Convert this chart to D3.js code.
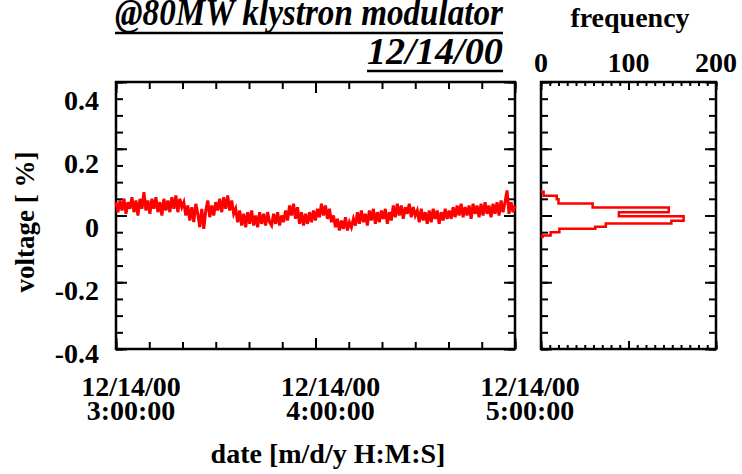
<!DOCTYPE html>
<html>
<head>
<meta charset="utf-8">
<script src="https://cdn.jsdelivr.net/npm/d3@7"></script>
<style>
  body { margin: 0; background: #fff; }
  text { font-family: "Liberation Serif", "DejaVu Serif", serif; font-weight: bold; fill: #000; }
</style>
</head>
<body>
<script>
// data
var startTime = new Date(2000, 11, 14, 3, 0, 0);
var stepSec = 36;
var voltage = [
  0.04, 0.01, 0.045, 0.015, 0.05, 0.005, 0.04, 0.02, 0.055, 0.01, 0.045, 0.0, 0.05, 0.02, 0.07,
  0.015, 0.045, 0.005, 0.05, 0.02, 0.055, 0.01, 0.04, 0.0, 0.05, 0.015, 0.045, 0.01, 0.055, 0.02, 0.06, 0.01, 0.05, 0.025,
  0.04, 0.0, 0.03, -0.015, 0.025, -0.02, 0.035, 0.005, -0.035, 0.02, -0.04, 0.015, 0.045, -0.005, 0.03, 0.0, 0.04,
  0.015, 0.05, 0.01, 0.055, 0.02, 0.06, 0.015, 0.045, 0.005,
  0.02, -0.02, 0.015, -0.03, 0.005, -0.035, 0.01, -0.025, 0.015, -0.03, 0.0, -0.035, 0.01, -0.025, 0.005, -0.03, 0.01, -0.02,
  -0.03, 0.005, -0.025, 0.01, -0.03, 0.0, -0.02, 0.015, -0.015, 0.03, 0.0, 0.035, -0.01, 0.025, -0.025, 0.01, -0.03, 0.005, -0.025, 0.01, -0.02, 0.015, -0.015, 0.02, -0.005, 0.035, 0.0, 0.03, -0.01, 0.02, -0.02,
  0.0, -0.035, -0.01, -0.045, -0.015, -0.04, -0.005, -0.045, -0.02, -0.035, -0.01, -0.03,
  0.01, -0.025, 0.015, -0.02, 0.005, -0.03, 0.015, -0.015, 0.02, -0.025, 0.01, -0.02, 0.015, -0.01, 0.02, -0.025, 0.01, -0.015,
  0.03, -0.005, 0.035, 0.0, 0.03, -0.01, 0.025, 0.005, 0.035, -0.005, 0.025, 0.0,
  0.015, -0.02, 0.02, -0.015, 0.01, -0.025, 0.015, -0.02, 0.02, -0.01, 0.015, -0.025, 0.01, -0.015, 0.02, -0.01, 0.015,
  -0.01, 0.025, -0.005, 0.03, 0.0, 0.035, -0.005, 0.025, 0.0, 0.03, -0.01, 0.035, 0.005, 0.03, -0.005, 0.035, 0.0, 0.04, 0.005, 0.03, -0.005, 0.035, 0.005, 0.04, 0.0, 0.045, 0.01, 0.04, 0.075, 0.005, 0.04, 0.01, 0.03
];
var histEdges = [0.071, 0.059, 0.049, 0.036, 0.024, 0.010, -0.002, -0.016, -0.024, -0.034, -0.040, -0.050, -0.060, -0.064];
var histCounts = [3, 18, 20, 59, 146, 89, 163, 149, 74, 62, 21, 11, 2];
var yTickValues = [-0.4, -0.2, 0, 0.2, 0.4];
var yTickLabels = ["-0.4", "-0.2", "0", "0.2", "0.4"];
var xTickTimes = [new Date(2000, 11, 14, 3), new Date(2000, 11, 14, 4), new Date(2000, 11, 14, 5)];
var xTickLabels = [["12/14/00", "3:00:00"], ["12/14/00", "4:00:00"], ["12/14/00", "5:00:00"]];
var freqTickValues = [0, 100, 200];
var freqTickLabels = ["0", "100", "200"];

var width = 742, height = 474;
var main = {left: 116, right: 515, top: 82, bottom: 349};
var hist = {left: 541, right: 716, top: 82, bottom: 349};

var svg = d3.select("body").append("svg")
    .attr("width", width)
    .attr("height", height);

var series = voltage.map(function(v, i) {
    return {t: new Date(startTime.getTime() + i * stepSec * 1000), v: v};
});

var x = d3.scaleTime()
    .domain([xTickTimes[0], xTickTimes[2]])
    .range([main.left, main.right]);
var y = d3.scaleLinear().domain([-0.4, 0.4]).range([main.bottom, main.top]);
// tick labels sit slightly off their ticks in the original
var yLab = d3.scaleLinear().domain([-0.4, 0.4]).range([353, 100]);
var hx = d3.scaleLinear().domain([0, 200]).range([hist.left, hist.right]);

function styleAxis(g) {
    g.select(".domain").remove();
    g.selectAll(".tick line").attr("stroke", "#000").attr("stroke-width", 2);
    g.selectAll(".tick text").remove();
}

// ticks, all pointing inwards
var minorY = d3.range(-0.4, 0.4001, 0.05);
function yAxes(left, right, scale) {
    svg.append("g").attr("transform", "translate(" + left + ",0)")
        .call(d3.axisLeft(scale).tickValues(minorY).tickSize(-7)).call(styleAxis);
    svg.append("g").attr("transform", "translate(" + left + ",0)")
        .call(d3.axisLeft(scale).tickValues(yTickValues).tickSize(-11)).call(styleAxis);
    svg.append("g").attr("transform", "translate(" + right + ",0)")
        .call(d3.axisRight(scale).tickValues(minorY).tickSize(-7)).call(styleAxis);
    svg.append("g").attr("transform", "translate(" + right + ",0)")
        .call(d3.axisRight(scale).tickValues(yTickValues).tickSize(-11)).call(styleAxis);
}
yAxes(main.left, main.right, y);
yAxes(hist.left, hist.right, y);

[main.top, main.bottom].forEach(function(yy, k) {
    var minor = k ? d3.axisBottom(x) : d3.axisTop(x);
    var major = k ? d3.axisBottom(x) : d3.axisTop(x);
    svg.append("g").attr("transform", "translate(0," + yy + ")")
        .call(minor.ticks(d3.timeMinute.every(10)).tickSize(-7)).call(styleAxis);
    svg.append("g").attr("transform", "translate(0," + yy + ")")
        .call(major.tickValues(xTickTimes).tickSize(-11)).call(styleAxis);

    var hminor = k ? d3.axisBottom(hx) : d3.axisTop(hx);
    var hmajor = k ? d3.axisBottom(hx) : d3.axisTop(hx);
    svg.append("g").attr("transform", "translate(0," + yy + ")")
        .call(hminor.tickValues(d3.range(0, 201, 10)).tickSize(-4)).call(styleAxis);
    svg.append("g").attr("transform", "translate(0," + yy + ")")
        .call(hmajor.tickValues(freqTickValues).tickSize(-8)).call(styleAxis);
});

// frames
[main, hist].forEach(function(p) {
    svg.append("rect")
        .attr("x", p.left).attr("y", p.top)
        .attr("width", p.right - p.left).attr("height", p.bottom - p.top)
        .attr("fill", "none").attr("stroke", "#000").attr("stroke-width", 2.5);
});

// time series
var line = d3.line()
    .x(function(d) { return x(d.t); })
    .y(function(d) { return y(d.v); });
svg.append("path")
    .datum(series)
    .attr("d", line)
    .attr("fill", "none")
    .attr("stroke", "#ff0000")
    .attr("stroke-width", 3);

// histogram outline (steps)
var steps = [[0, histEdges[0]]];
histCounts.forEach(function(c, i) {
    steps.push([c, histEdges[i]]);
    steps.push([c, histEdges[i + 1]]);
});
steps.push([0, histEdges[histEdges.length - 1]]);
svg.append("path")
    .datum(steps)
    .attr("d", d3.line().x(function(d) { return hx(d[0]); }).y(function(d) { return y(d[1]); }))
    .attr("fill", "none")
    .attr("stroke", "#ff0000")
    .attr("stroke-width", 2.5);

// y tick labels
svg.selectAll(".ylab").data(yTickValues).enter().append("text")
    .attr("x", 99)
    .attr("y", function(d) { return yLab(d) + 10; })
    .attr("text-anchor", "end")
    .style("font-size", "28px")
    .text(function(d, i) { return yTickLabels[i]; });

// x tick labels
xTickTimes.forEach(function(t, i) {
    svg.append("text")
        .attr("x", x(t) + 15).attr("y", 396)
        .attr("text-anchor", "middle")
        .style("font-size", "28px")
        .text(xTickLabels[i][0]);
    svg.append("text")
        .attr("x", x(t) + 15).attr("y", 420)
        .attr("text-anchor", "middle")
        .style("font-size", "28px")
        .text(xTickLabels[i][1]);
});

// frequency tick labels
freqTickValues.forEach(function(v, i) {
    svg.append("text")
        .attr("x", hx(v))
        .attr("y", 72)
        .attr("text-anchor", "middle")
        .style("font-size", "28px")
        .text(freqTickLabels[i]);
});

// axis titles
svg.append("text")
    .attr("transform", "translate(34,222) rotate(-90)")
    .attr("text-anchor", "middle")
    .style("font-size", "27px")
    .text("voltage [ %]");
svg.append("text")
    .attr("x", 328).attr("y", 463)
    .attr("text-anchor", "middle")
    .style("font-size", "28px")
    .text("date [m/d/y H:M:S]");
svg.append("text")
    .attr("x", 630).attr("y", 27)
    .attr("text-anchor", "middle")
    .style("font-size", "28px")
    .text("frequency");

// title, underlined
[["@80MW klystron modulator", 25, 388, 33], ["12/14/00", 64, 136, 71]].forEach(function(d) {
    svg.append("text")
        .attr("x", 503 - d[2]).attr("y", d[1])
        .attr("textLength", d[2])
        .attr("lengthAdjust", "spacingAndGlyphs")
        .style("font-size", "38px")
        .style("font-style", "italic")
        .text(d[0]);
    svg.append("line")
        .attr("x1", 503 - d[2]).attr("x2", 503)
        .attr("y1", d[3]).attr("y2", d[3])
        .attr("stroke", "#000").attr("stroke-width", 2.5);
});
</script>
</body>
</html>
